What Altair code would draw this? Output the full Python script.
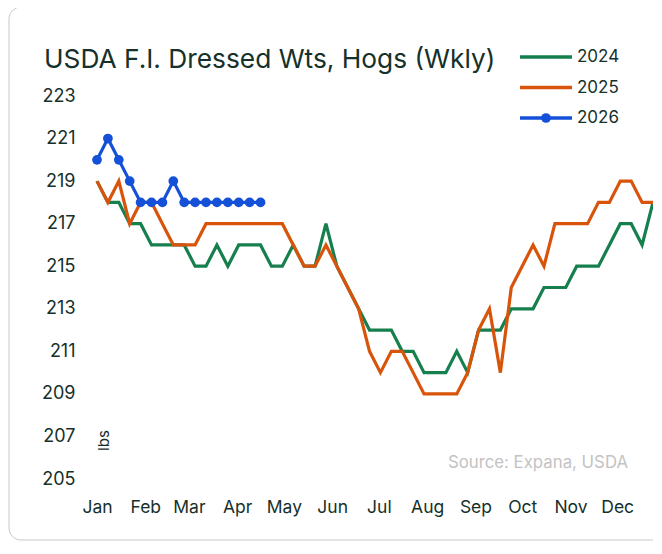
import altair as alt
import pandas as pd

years = ["2024", "2025", "2026"]
colors = ["#167f4e", "#d9540b", "#1550d8"]

v2024 = [219, 218, 218, 217, 217, 216, 216, 216, 216, 215, 215, 216, 215, 216, 216, 216,
         215, 215, 216, 215, 215, 217, 215, 214, 213, 212, 212, 212, 211, 211, 210, 210,
         210, 211, 210, 212, 212, 212, 213, 213, 213, 214, 214, 214, 215, 215, 215, 216,
         217, 217, 216, 218]
v2025 = [219, 218, 219, 217, 218, 218, 217, 216, 216, 216, 217, 217, 217, 217, 217, 217,
         217, 217, 216, 215, 215, 216, 215, 214, 213, 211, 210, 211, 211, 210, 209, 209,
         209, 209, 210, 212, 213, 210, 214, 215, 216, 215, 217, 217, 217, 217, 218, 218,
         219, 219, 218, 218]
v2026 = [220, 221, 220, 219, 218, 218, 218, 219, 218, 218, 218, 218, 218, 218, 218, 218]

month_names = ["Jan", "Feb", "Mar", "Apr", "May", "Jun", "Jul", "Aug", "Sep", "Oct", "Nov", "Dec"]
month_start_day = [0, 31, 59, 90, 120, 151, 181, 212, 243, 273, 304, 334]
y_ticks = [205, 207, 209, 211, 213, 215, 217, 219, 221, 223]

title_text = "USDA F.I. Dressed Wts, Hogs (Wkly)"
source_text = "Source: Expana, USDA"

rows = []
for yr, vals in zip(years, [v2024, v2025, v2026]):
    for i, v in enumerate(vals):
        rows.append({"year": yr, "day": i * 7, "value": v})
df = pd.DataFrame(rows)

dark = "#16302a"
font = "Inter"

label_expr = "{" + ",".join(f"'{d}':'{m}'" for d, m in zip(month_start_day, month_names)) + "}[datum.value]"

color = alt.Color("year:N", scale=alt.Scale(domain=years, range=colors), legend=None)

x = alt.X("day:Q", scale=alt.Scale(domain=[0, 357], nice=False, zero=False),
          axis=alt.Axis(values=month_start_day, labelExpr=label_expr, title=None,
                        domain=False, ticks=False, grid=False, labelPadding=19,
                        labelFlush=False, labelOverlap=False,
                        labelFontSize=17.5, labelColor=dark, labelFont=font))
y = alt.Y("value:Q", scale=alt.Scale(domain=[205, 223], nice=False, zero=False),
          axis=alt.Axis(values=y_ticks, title="lbs", titleAngle=270, titleX=6, titleY=344,
                        titleAlign="center", titleBaseline="middle", titleFontSize=15,
                        titleFontWeight="normal", titleColor=dark, titleFont=font,
                        domain=False, ticks=False, grid=False, labelPadding=22,
                        labelFlush=False, labelOverlap=False,
                        labelFontSize=18, labelColor=dark, labelFont=font))

base = alt.Chart(df)
lines = base.mark_line(strokeWidth=3.2).encode(x=x, y=y, color=color, order="day:Q")
pts = base.transform_filter(alt.datum.year == "2026").mark_circle(size=95, opacity=1).encode(
    x="day:Q", y="value:Q", color=color)

source = alt.Chart(pd.DataFrame({"t": [source_text]})).mark_text(
    align="right", baseline="middle", fontSize=16.8, color="#c3c3c3", font=font
).encode(text="t:N", x=alt.value(531), y=alt.value(367))

title = alt.Chart(pd.DataFrame({"t": [title_text]})).mark_text(
    align="left", baseline="middle", fontSize=26.3, color=dark, font=font
).encode(text="t:N", x=alt.value(-53), y=alt.value(-36))

card = alt.Chart(pd.DataFrame({"k": [0]})).mark_rect(
    fill="transparent", stroke="#c9c9c9", strokeWidth=1, cornerRadius=12
).encode(x=alt.value(-88), x2=alt.value(590), y=alt.value(-89), y2=alt.value(444))

main = alt.layer(card, lines, pts, source, title)

leg_df = pd.DataFrame({"year": years})
ly = alt.Y("year:N", scale=alt.Scale(type="point", domain=years, range=[-39, 22], padding=0), axis=None)
leg_rule = alt.Chart(leg_df).mark_rule(strokeWidth=3.4).encode(
    x=alt.value(423), x2=alt.value(475), y=ly, color=color)
leg_dot = alt.Chart(leg_df).transform_filter(alt.datum.year == "2026").mark_circle(
    size=95, opacity=1).encode(x=alt.value(449), y=ly, color=color)
leg_txt = alt.Chart(leg_df).mark_text(align="left", baseline="middle", fontSize=17,
                                      color=dark, font=font).encode(
    x=alt.value(480), y=ly, text="year:N")
legend = alt.layer(leg_rule, leg_dot, leg_txt)

chart = alt.layer(main, legend).resolve_scale(y="independent").properties(
    width=556, height=383,
    autosize="none",
    padding={"left": 89, "top": 88, "right": 0, "bottom": 62},
).configure(background="white").configure_view(stroke=None)

chart.save("out.html", embed_options={"renderer": "svg", "actions": False})
